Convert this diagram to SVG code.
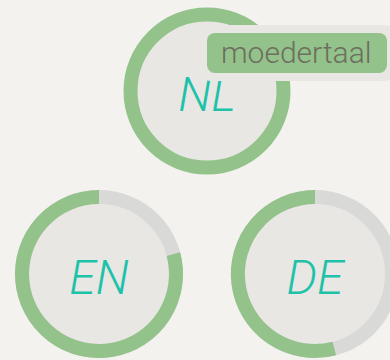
<svg xmlns="http://www.w3.org/2000/svg" width="390" height="360" viewBox="0 0 390 360">
<style>
.bg{fill:#f3f2ef}
.disc{fill:#e8e7e4}
.track{fill:none;stroke:#d9d9d8;stroke-width:14}
.prog{fill:none;stroke:#93c28a;stroke-width:14}
.lang{font-family:Roboto,"Liberation Sans",sans-serif;font-weight:300;font-style:italic;font-size:48px;fill:#1ec2a9;text-anchor:middle}
.tag{font-family:Roboto,"Liberation Sans",sans-serif;font-weight:300;font-size:30px;fill:#6d6e60}
</style>
<rect class="bg" x="0" y="0" width="390" height="360"/>
<g id="NL">
<circle class="disc" cx="207" cy="91" r="76"/>
<circle class="prog" cx="207" cy="91" r="76.5"/>
<text class="lang" x="207" y="111">NL</text>
</g>
<g id="EN">
<circle class="disc" cx="99" cy="274" r="77"/>
<circle class="track" cx="99" cy="274" r="77"/>
<path class="prog" d="M 173.4 254.1 A 77 77 0 1 1 99 197"/>
<text class="lang" x="99" y="294">EN</text>
</g>
<g id="DE">
<circle class="disc" cx="315" cy="274" r="77"/>
<circle class="track" cx="315" cy="274" r="77"/>
<path class="prog" d="M 334.3 348.5 A 77 77 0 1 1 315 197"/>
<text class="lang" x="315" y="294">DE</text>
</g>
<g id="moedertaal">
<rect x="200" y="25" width="196" height="56" rx="11" fill="#e8e7e4"/>
<rect x="207" y="33" width="180" height="40" rx="8" fill="#93c28a"/>
<text class="tag" x="221" y="63">moedertaal</text>
</g>
</svg>
